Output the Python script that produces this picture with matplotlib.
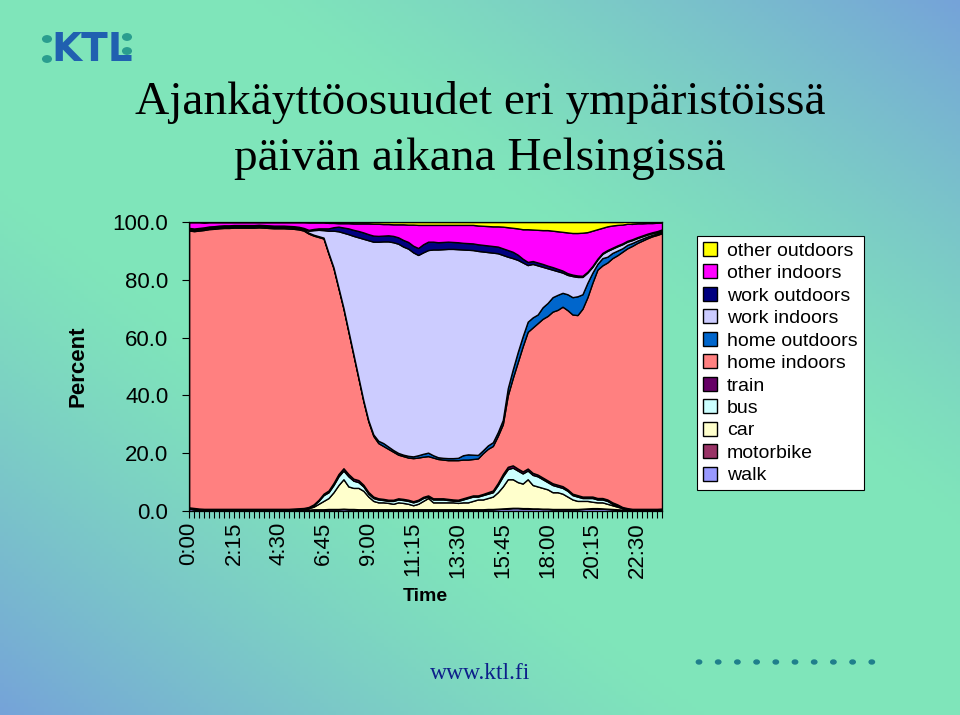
import numpy as np
import matplotlib
matplotlib.use("Agg")
import matplotlib.pyplot as plt
from matplotlib.patches import Patch, Circle

plt.rcParams['font.family'] = ['Liberation Sans', 'DejaVu Sans']

# 15 min slots 0:00 .. 23:45
n_slots = 96
tick_labels = ["0:00", "2:15", "4:30", "6:45", "9:00", "11:15",
               "13:30", "15:45", "18:00", "20:15", "22:30"]

# stacked shares (%), bottom to top
walk = [0.8, 0.6, 0.4, 0.3, 0.3, 0.3, 0.3, 0.3, 0.3, 0.3,
        0.3, 0.3, 0.3, 0.3, 0.3, 0.3, 0.3, 0.3, 0.3, 0.3,
        0.3, 0.3, 0.3, 0.4, 0.4, 0.5, 0.5, 0.5, 0.6, 0.6,
        0.6, 0.7, 0.6, 0.6, 0.5, 0.5, 0.5, 0.5, 0.5, 0.5,
        0.5, 0.5, 0.5, 0.5, 0.5, 0.5, 0.5, 0.5, 0.5, 0.5,
        0.5, 0.5, 0.5, 0.5, 0.5, 0.5, 0.5, 0.5, 0.5, 0.5,
        0.6, 0.6, 0.7, 0.8, 0.9, 1.0, 1.0, 0.9, 0.9, 0.8,
        0.8, 0.7, 0.7, 0.6, 0.6, 0.6, 0.6, 0.6, 0.6, 0.7,
        0.8, 0.9, 0.9, 0.8, 0.7, 0.6, 0.5, 0.4, 0.4, 0.3,
        0.3, 0.3, 0.3, 0.3, 0.3, 0.4]
motorbike = [0.05] * 24 + [0.1] * 65 + [0.05] * 7
car = [0.15, 0.15, 0.15, 0.15, 0.15, 0.15, 0.15, 0.15, 0.15, 0.15,
       0.15, 0.15, 0.15, 0.15, 0.15, 0.15, 0.15, 0.15, 0.15, 0.15,
       0.15, 0.25, 0.35, 0.35, 0.5, 0.9, 1.9, 2.9, 3.8, 5.8,
       8.3, 10.2, 7.8, 7.3, 7.4, 6.4, 4.4, 2.9, 2.4, 2.4,
       2.2, 1.9, 2.4, 2.2, 1.9, 1.4, 1.9, 2.9, 3.9, 2.4,
       2.4, 2.4, 2.4, 2.4, 2.2, 2.4, 2.4, 2.9, 3.4, 3.4,
       3.8, 4.3, 5.7, 7.6, 10.0, 9.9, 8.9, 8.5, 10.0, 8.1,
       7.6, 7.2, 6.7, 5.8, 5.8, 5.3, 4.3, 3.3, 2.8, 2.7,
       2.6, 2.2, 2.0, 2.1, 1.7, 1.3, 0.9, 0.5, 0.2, 0.15,
       0.15, 0.15, 0.15, 0.15, 0.15, 0.15]
bus = [0.15, 0.15, 0.15, 0.15, 0.15, 0.15, 0.15, 0.15, 0.15, 0.15,
       0.15, 0.15, 0.15, 0.15, 0.15, 0.15, 0.15, 0.15, 0.15, 0.15,
       0.15, 0.15, 0.15, 0.15, 0.2, 0.5, 1.0, 2.0, 2.0, 2.5,
       3.0, 3.0, 3.5, 2.5, 2.0, 1.5, 1.0, 1.0, 1.0, 0.8,
       0.7, 1.0, 1.0, 1.0, 1.0, 1.0, 1.0, 1.0, 0.5, 1.0,
       1.0, 1.0, 0.8, 0.6, 0.7, 1.0, 1.5, 1.5, 1.0, 1.5,
       1.5, 1.5, 2.5, 3.5, 3.5, 4.0, 4.0, 3.5, 3.0, 3.5,
       3.5, 3.0, 2.5, 2.5, 2.0, 2.0, 2.0, 1.5, 1.5, 1.0,
       1.0, 1.3, 1.0, 1.0, 1.0, 0.5, 0.5, 0.2, 0.2, 0.15,
       0.15, 0.15, 0.15, 0.15, 0.15, 0.15]
train = ([0.1] * 24 +
         [0.2, 0.3, 0.4, 0.5, 0.6, 0.7, 0.8, 0.8, 0.8, 0.7, 0.7, 0.6, 0.6, 0.5] +
         [0.4] * 22 +
         [0.5, 0.6, 0.7, 0.8, 0.8, 0.8, 0.7, 0.7, 0.7, 0.7,
          0.6, 0.6, 0.6, 0.6, 0.6, 0.6] +
         [0.5] * 10 + [0.3, 0.2] + [0.1] * 8)
home_in = [95.8, 95.8, 96.2, 96.5, 96.8, 96.9, 97.1, 97.2, 97.2, 97.3,
           97.3, 97.3, 97.3, 97.3, 97.4, 97.3, 97.2, 97.1, 97.1, 97.1,
           97.0, 96.8, 96.5, 96.0, 94.6, 93.0, 90.9, 88.3, 81.9, 74.3,
           64.2, 55.2, 49.2, 42.8, 35.3, 28.9, 24.4, 21.0, 19.1, 18.3,
           17.6, 16.6, 15.1, 14.8, 14.6, 14.9, 14.6, 13.9, 13.6, 14.1,
           13.6, 13.4, 13.4, 13.6, 13.7, 13.4, 12.9, 12.6, 12.8, 14.1,
           15.0, 15.4, 16.3, 17.2, 24.7, 30.2, 36.8, 43.3, 47.3, 50.3,
           52.4, 54.9, 56.9, 59.4, 60.5, 62.1, 62.0, 62.0, 62.3, 65.0,
           69.0, 74.0, 79.0, 80.5, 82.0, 84.5, 86.2, 88.3, 89.9, 91.0,
           92.0, 92.8, 93.6, 94.3, 94.8, 95.3]
home_out = ([0.3] * 36 + [0.4, 0.5, 0.8, 1.0] +
            [0.8, 0.6, 0.6, 0.5, 0.6, 0.6, 0.8, 1.0, 1.2, 0.8,
             0.6, 0.6, 0.7, 0.7, 0.8, 1.5, 1.8, 1.5, 1.2, 1.0,
             1.2, 1.3, 1.3, 1.5, 2.5, 3.0, 3.5, 3.5, 3.5, 3.5,
             3.0, 4.0, 4.5, 5.0, 5.2, 4.8, 5.5, 6.0, 6.5, 5.0,
             5.0, 3.5, 2.0, 2.5, 2.0, 1.8, 1.6, 1.2, 1.2, 1.0,
             0.8, 0.7, 0.6, 0.5, 0.5, 0.5])
work_in = ([0.4] * 24 +
           [0.7, 1.6, 2.2, 2.6, 7.7, 12.7,
            19.5, 26.0, 33.5, 40.9, 48.4, 55.9, 62.3, 66.7, 68.9, 69.8,
            71.0, 71.9, 72.4, 72.0, 71.7, 70.6, 69.3, 69.7, 70.1, 71.2,
            71.9, 72.2, 72.4, 72.4, 72.2, 71.2, 70.8, 70.8, 70.6, 68.8,
            66.9, 65.6, 61.9, 57.1, 45.5, 38.5, 31.9, 25.5, 19.6, 18.5,
            17.0, 14.0, 12.0, 9.5, 8.2, 7.0, 6.7, 7.3, 6.7, 6.0,
            3.5, 2.0, 1.5, 1.5, 2.0, 1.5, 1.5, 1.4, 1.1, 1.0,
            0.9, 0.8, 0.7, 0.6, 0.5, 0.5])
work_out = ([0.2] * 24 +
            [0.3, 0.4, 0.5, 0.6, 0.8, 1.2,
             1.6, 1.8, 2.0, 2.1, 2.2, 2.2, 2.1, 2.1, 2.0, 2.0,
             2.1, 2.2, 2.2, 2.3, 2.3, 2.3, 2.4, 2.8, 2.9, 2.7,
             2.5, 2.5, 2.5, 2.4, 2.4, 2.3, 2.3, 2.3, 2.3, 2.3,
             2.3, 2.3, 2.3, 2.3, 2.3, 2.2, 1.8, 1.3, 1.1, 1.0,
             1.0, 1.0, 0.9, 0.9, 0.8, 0.7, 0.6, 0.5, 0.5, 0.4] +
            [0.3] * 16)
other_in = [2.0, 2.2, 2.0, 1.7, 1.5, 1.4, 1.2, 1.1, 1.1, 1.0,
            1.0, 1.0, 1.0, 1.0, 0.9, 1.0, 1.1, 1.2, 1.2, 1.2,
            1.3, 1.4, 1.6, 2.0, 2.6, 2.3, 2.1, 2.1, 1.9, 1.5,
            1.2, 1.5, 1.8, 2.2, 2.6, 3.1, 3.7, 4.1, 4.2, 4.0,
            3.9, 4.0, 4.5, 5.4, 6.0, 7.3, 8.0, 6.7, 5.8, 5.8,
            6.0, 5.9, 5.8, 5.9, 6.0, 6.2, 6.3, 6.4, 6.5, 6.6,
            6.7, 6.8, 7.0, 7.5, 7.9, 8.3, 9.1, 10.2, 11.3, 10.9,
            11.3, 11.7, 12.3, 12.6, 13.0, 13.4, 14.1, 14.4, 14.7, 14.9,
            13.7, 12.2, 10.2, 8.7, 8.2, 7.7, 7.1, 6.5, 5.9, 5.3,
            4.8, 4.2, 3.7, 3.2, 2.9, 2.4]
other_out = ([0.1] * 28 +
             [0.3, 0.3, 0.4, 0.4, 0.4, 0.5, 0.5, 0.5, 0.5,
              0.6, 0.6, 0.7, 0.7, 0.8, 0.8, 0.8, 0.9, 0.9] +
             [1.0] * 12 +
             [1.2, 1.3, 1.4, 1.5, 1.5, 1.6, 1.8, 2.0, 2.2,
              2.5, 2.5, 2.6, 2.7, 2.8, 2.8, 3.0, 3.2, 3.4, 3.6, 3.8, 3.8, 3.7,
              3.5, 3.0, 2.5, 2.0, 1.5, 1.2, 1.0, 0.9, 0.8, 0.6,
              0.5, 0.5, 0.4, 0.4, 0.3, 0.3])

series = [walk, motorbike, car, bus, train, home_in, home_out,
          work_in, work_out, other_in, other_out]
names = ["walk", "motorbike", "car", "bus", "train", "home indoors",
         "home outdoors", "work indoors", "work outdoors", "other indoors",
         "other outdoors"]
colors = ["#9999FF", "#993366", "#FFFFCC", "#CCFFFF", "#660066", "#FF8080",
          "#0066CC", "#CCCCFF", "#000080", "#FF00FF", "#FFFF00"]

fig = plt.figure(figsize=(9.6, 7.15), dpi=100)

# background gradient: green diagonal, blue in top-right / bottom-left corners
bg = fig.add_axes([0, 0, 1, 1], zorder=-10)
gx, gy = np.meshgrid(np.linspace(0, 1, 240), np.linspace(0, 1, 180))
t = np.clip((np.abs(gx - gy) - 0.25) / 0.75, 0, 1) ** 1.3
green = np.array([0.50, 0.90, 0.73])
blue = np.array([0.46, 0.64, 0.85])
img = green[None, None, :] * (1 - t[..., None]) + blue[None, None, :] * t[..., None]
bg.imshow(img, extent=[0, 1, 0, 1], aspect='auto', origin='upper')
bg.axis('off')

ax = fig.add_axes([0.197, 0.2853, 0.4927, 0.4042])
ax.set_facecolor('none')
x = np.arange(n_slots)
ax.stackplot(x, *series, colors=colors, edgecolor='black', linewidth=1.0)
ax.set_xlim(0, n_slots - 1)
ax.set_ylim(0, 100)

ax.set_yticks(np.arange(0, 101, 20))
ax.set_yticklabels([f"{v:.1f}" for v in np.arange(0, 101, 20)], fontsize=16)
ax.tick_params(axis='y', direction='out', length=5, pad=10, width=0.8)
ax.set_xticks(x)
ax.set_xticklabels([tick_labels[i // 9] if i % 9 == 0 else "" for i in x],
                   rotation=90, fontsize=16)
ax.tick_params(axis='x', direction='out', length=5, pad=3, width=0.8)
for s in ax.spines.values():
    s.set_linewidth(0.9)

ax.set_xlabel("Time", fontsize=14, fontweight='bold', labelpad=7)
ax.set_ylabel("Percent", fontsize=16, fontweight='bold',
              family=['Liberation Sans Narrow', 'Liberation Sans'])
ax.yaxis.set_label_coords(-0.213, 0.5)

handles = [Patch(facecolor=c, edgecolor='black', linewidth=1) for c in colors]
leg = fig.legend(handles[::-1], names[::-1], loc='upper left',
                 bbox_to_anchor=(0.726, 0.670), fontsize=14, frameon=True,
                 fancybox=False, edgecolor='black', framealpha=1,
                 handlelength=0.75, handleheight=0.75, handletextpad=0.5,
                 labelspacing=0.235, borderpad=0.3, borderaxespad=0)
leg.get_frame().set_linewidth(0.8)

fig.text(0.5, 0.8406, "Ajankäyttöosuudet eri ympäristöissä", ha='center',
         va='baseline', fontsize=34, family='Liberation Serif')
fig.text(0.5, 0.7622, "päivän aikana Helsingissä", ha='center',
         va='baseline', fontsize=34, family='Liberation Serif')

# KTL logo
fig.text(0.053, 0.930, "KTL", fontsize=28, fontweight='bold', color='#2060b0',
         family='DejaVu Sans', ha='left', va='center')
for (px, py) in [(47, 39), (47, 59), (127, 37), (127, 51)]:
    fig.patches.append(Circle((px / 960, 1 - py / 715), 0.0045,
                              transform=fig.transFigure, color='#2a9d8f'))

fig.text(0.5, 0.058, "www.ktl.fi", ha='center', va='center', fontsize=17,
         family='Liberation Serif', color='#0d1f8a')
for k in range(10):
    fig.patches.append(Circle(((699 + k * 19.2) / 960, 1 - 662 / 715), 0.0028,
                              transform=fig.transFigure, color='#1f7f8c'))

fig.savefig("out.png", dpi=100)
